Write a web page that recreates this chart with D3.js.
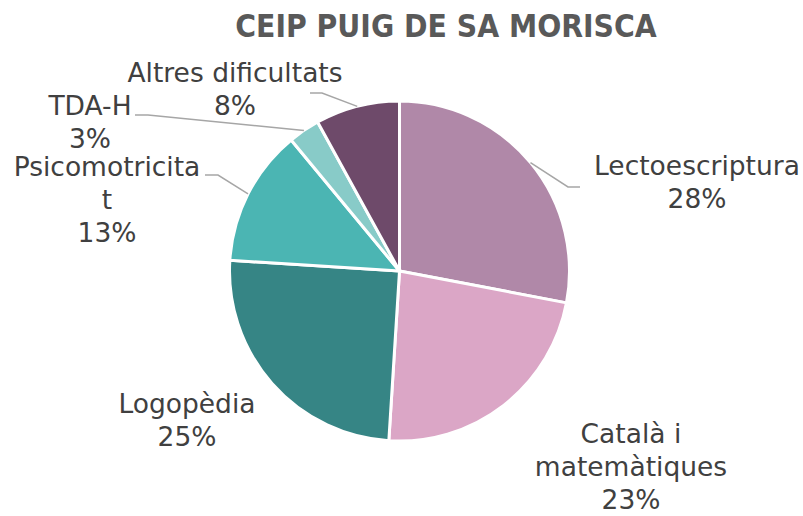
<!DOCTYPE html>
<html>
<head>
<meta charset="utf-8">
<script src="https://cdn.jsdelivr.net/npm/d3@7"></script>
<style>
  body { margin: 0; background: #fff; }
  svg { display: block; }
</style>
</head>
<body>
<svg id="chart" width="803" height="516"></svg>
<script>
const categories = ["Lectoescriptura", "Català i matemàtiques", "Logopèdia", "Psicomotricitat", "TDA-H", "Altres dificultats"];
const values = [28, 23, 25, 13, 3, 8];
const colors = ["#b088a8", "#dba6c6", "#368585", "#4bb5b3", "#88cbc8", "#6e4a6a"];
// how each category name wraps in the reference
const nameLines = [["Lectoescriptura"], ["Català i", "matemàtiques"], ["Logopèdia"], ["Psicomotricita", "t"], ["TDA-H"], ["Altres dificultats"]];

const width = 803;
const height = 516;
const cx = 399.5;
const cy = 271;
const radius = 170;

// label placement: text centre x, first baseline y, leader elbow (null = no leader)
const labelLayout = [
  { x: 697, y: 175, elbow: [568, 187], end: [580, 187] },
  { x: 631, y: 443, elbow: null },
  { x: 187, y: 413, elbow: null },
  { x: 107, y: 176, elbow: [218, 175], end: [205, 175] },
  { x: 90, y: 115, elbow: [148, 115], end: [135, 115] },
  { x: 235, y: 82, elbow: [322, 93], end: [310, 93] }
];

const svg = d3.select("#chart");

svg.append("text")
  .attr("x", 446)
  .attr("y", 37)
  .attr("text-anchor", "middle")
  .attr("font-family", "DejaVu Sans Condensed, DejaVu Sans")
  .attr("font-weight", "bold")
  .attr("font-size", 31.5)
  .attr("fill", "#595959")
  .text("CEIP PUIG DE SA MORISCA");

const total = d3.sum(values);
const pie = d3.pie().sort(null).value((d) => d);
const arcs = pie(values);
const arc = d3.arc().innerRadius(0).outerRadius(radius);

const g = svg.append("g").attr("transform", `translate(${cx},${cy})`);

g.selectAll("path")
  .data(arcs)
  .join("path")
  .attr("d", arc)
  .attr("fill", (_, i) => colors[i])
  .attr("stroke", "#fff")
  .attr("stroke-width", 3)
  .attr("stroke-linejoin", "round");

const pct = d3.format(".0%");

arcs.forEach((a, i) => {
  const lay = labelLayout[i];
  if (lay.elbow) {
    const mid = (a.startAngle + a.endAngle) / 2;
    const p0 = [cx + radius * Math.sin(mid), cy - radius * Math.cos(mid)];
    svg.append("polyline")
      .attr("points", [p0, lay.elbow, lay.end].map((p) => p.join(",")).join(" "))
      .attr("fill", "none")
      .attr("stroke", "#a6a6a6")
      .attr("stroke-width", 1.5);
  }
  const lines = nameLines[i].concat([pct(values[i] / total)]);
  const t = svg.append("text")
    .attr("x", lay.x)
    .attr("y", lay.y)
    .attr("text-anchor", "middle")
    .attr("font-family", "DejaVu Sans")
    .attr("font-size", 26.5)
    .attr("fill", "#404040");
  lines.forEach((s, k) => {
    t.append("tspan")
      .attr("x", lay.x)
      .attr("dy", k === 0 ? 0 : 33)
      .text(s);
  });
});
</script>
</body>
</html>
